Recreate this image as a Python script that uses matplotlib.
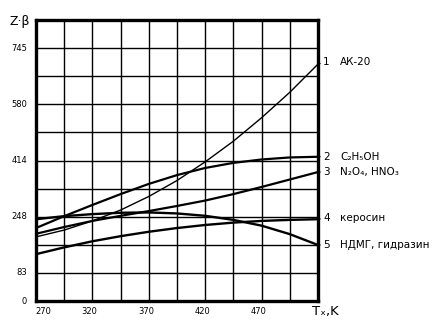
import matplotlib
matplotlib.use("Agg")
import matplotlib.pyplot as plt
import numpy as np

# ---- data ----
T = [270, 295, 320, 345, 370, 395, 420, 445, 470, 495, 520]
ak20 = [189, 209, 236, 268, 308, 355, 410, 471, 540, 615, 698]
ethanol = [215, 250, 283, 315, 345, 371, 392, 407, 417, 423, 425]
n2o4 = [198, 218, 236, 251, 265, 280, 296, 315, 336, 358, 380]
kerosene = [138, 158, 176, 191, 204, 215, 224, 231, 236, 239, 241]
udmh = [241, 250, 256, 260, 261, 258, 251, 239, 222, 197, 165]

series = [ak20, ethanol, n2o4, kerosene, udmh]
numbers = ["1", "2", "3", "4", "5"]
names = ["АК-20", "C₂H₅OH", "N₂O₄, HNO₃", "керосин", "НДМГ, гидразин"]
widths = [1.0, 1.6, 1.6, 1.7, 1.7]

ytick_labels = ["0", "83", "248", "414", "580", "745"]
ytick_rows = [0, 1, 3, 5, 7, 9]
xtick_labels = ["270", "320", "370", "420", "470"]

row = 82.8
xmin, xmax = 270, 520
ymax = 10 * row

fig = plt.figure(figsize=(4.38, 3.29), dpi=100)
ax = fig.add_axes([36 / 438, 1 - 301 / 329, 282 / 438, 281 / 329])
ax.set_xlim(xmin, xmax)
ax.set_ylim(0, ymax)

# grid
for k in range(1, 10):
    ax.axhline(k * row, color="black", lw=1.0, zorder=1)
for k in range(1, 10):
    ax.axvline(xmin + k * 25, color="black", lw=1.0, zorder=1)

for s, w in zip(series, widths):
    ax.plot(T, s, color="black", lw=w, zorder=3, solid_capstyle="butt")

for sp in ax.spines.values():
    sp.set_linewidth(2.4)
    sp.set_zorder(5)

ax.set_xticks([])
ax.set_yticks([])

# y tick labels
for lab, r in zip(ytick_labels, ytick_rows):
    ax.annotate(lab, xy=(xmin, r * row), xytext=(-9, 0), textcoords="offset pixels",
                ha="right", va="center", fontsize=6, annotation_clip=False)

# x tick labels
for i, lab in enumerate(xtick_labels):
    xv = xmin + 50 * i
    dx = 7 if i == 0 else -3
    ax.annotate(lab, xy=(xv, 0), xytext=(dx, -11), textcoords="offset pixels",
                ha="center", va="center", fontsize=6, annotation_clip=False)

# axis titles
fig.text(9 / 438, 1 - 22 / 329, "Z·β", fontsize=9, ha="left", va="center")
fig.text(312 / 438, 1 - 311 / 329, "Tₓ,K", fontsize=9.5, ha="left", va="center")

# curve labels
label_dy = [2, 0, 0, 1, 0]
for s, num, name, dy in zip(series, numbers, names, label_dy):
    ax.annotate(num, xy=(xmax, s[-1]), xytext=(5, dy), textcoords="offset pixels",
                ha="left", va="center", fontsize=7.5, annotation_clip=False,
                arrowprops=dict(arrowstyle="-", lw=0.8, color="black",
                                shrinkA=0, shrinkB=0))
    ax.annotate(name, xy=(xmax, s[-1]), xytext=(22, dy), textcoords="offset pixels",
                ha="left", va="center", fontsize=7.5, annotation_clip=False)

fig.savefig("out.png", dpi=100)
